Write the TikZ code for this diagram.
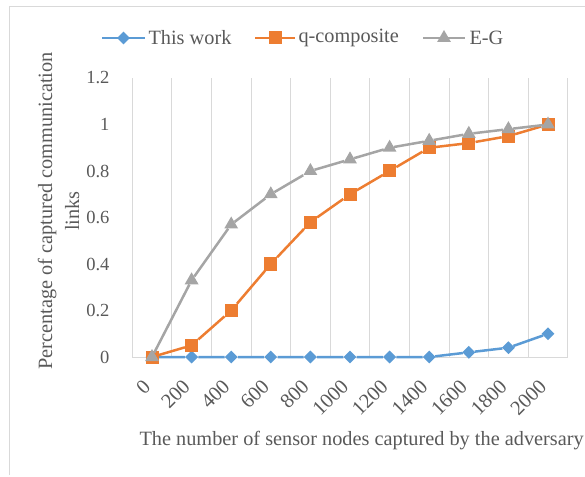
\documentclass[tikz,border=0pt]{standalone}
\usepackage{fontspec}
\setmainfont{Liberation Serif}
\usetikzlibrary{shapes.geometric}

\definecolor{workblue}{HTML}{5B9BD5}
\definecolor{comporange}{HTML}{ED7D31}
\definecolor{eggray}{HTML}{A5A5A5}
\definecolor{gridgray}{HTML}{D9D9D9}
\definecolor{textgray}{HTML}{595959}

\begin{document}
\begin{tikzpicture}[x=39.6pt, y=232.5pt, text=textgray, font=\fontsize{18.5}{20}\selectfont,
    gridline/.style={gridgray, line width=1pt},
    workline/.style={workblue, line width=2.5pt, line join=round},
    compline/.style={comporange, line width=2.5pt, line join=round},
    egline/.style={eggray, line width=2.5pt, line join=round},
    workmark/.style={diamond, fill=workblue, minimum width=13pt, minimum height=13pt, inner sep=0pt},
    compmark/.style={rectangle, fill=comporange, minimum size=13pt, inner sep=0pt},
    egmark/.style={regular polygon, regular polygon sides=3, fill=eggray, minimum size=16pt, inner sep=0pt},
    ylab/.style={anchor=east},
    xlab/.style={anchor=east, rotate=45, inner sep=0pt, font=\fontsize{20.5}{22}\selectfont},
    titletext/.style={font=\fontsize{20.3}{27}\selectfont}]
        \useasboundingbox (-152pt,-119pt) rectangle (433pt,357pt);
        % chart frame
        \draw[gridgray, line width=1pt] (-142pt,-118pt) -- (-142pt,350pt) -- (440pt,350pt);

        % vertical grid and base line
        \draw[gridline] (-0.5,0) -- (-0.5,1.2);
        \draw[gridline] (0.5,0) -- (0.5,1.2);
        \draw[gridline] (1.5,0) -- (1.5,1.2);
        \draw[gridline] (2.5,0) -- (2.5,1.2);
        \draw[gridline] (3.5,0) -- (3.5,1.2);
        \draw[gridline] (4.5,0) -- (4.5,1.2);
        \draw[gridline] (5.5,0) -- (5.5,1.2);
        \draw[gridline] (6.5,0) -- (6.5,1.2);
        \draw[gridline] (7.5,0) -- (7.5,1.2);
        \draw[gridline] (8.5,0) -- (8.5,1.2);
        \draw[gridline] (9.5,0) -- (9.5,1.2);
        \draw[gridline] (10.5,0) -- (10.5,1.2);
        \draw[gridline] (-0.5,0) -- (10.5,0);

        % y labels
        \node[ylab] (y0) at (-39pt,0) {0};
        \node[ylab] (y1) at (-39pt,0.2) {0.2};
        \node[ylab] (y2) at (-39pt,0.4) {0.4};
        \node[ylab] (y3) at (-39pt,0.6) {0.6};
        \node[ylab] (y4) at (-39pt,0.8) {0.8};
        \node[ylab] (y5) at (-39pt,1) {1};
        \node[ylab] (y6) at (-39pt,1.2) {1.2};

        % x labels
        \node[xlab] (x0) at ([xshift=-5pt]0,-26pt) {0};
        \node[xlab] (x1) at ([xshift=-5pt]1,-26pt) {200};
        \node[xlab] (x2) at ([xshift=-5pt]2,-26pt) {400};
        \node[xlab] (x3) at ([xshift=-5pt]3,-26pt) {600};
        \node[xlab] (x4) at ([xshift=-5pt]4,-26pt) {800};
        \node[xlab] (x5) at ([xshift=-5pt]5,-26pt) {1000};
        \node[xlab] (x6) at ([xshift=-5pt]6,-26pt) {1200};
        \node[xlab] (x7) at ([xshift=-5pt]7,-26pt) {1400};
        \node[xlab] (x8) at ([xshift=-5pt]8,-26pt) {1600};
        \node[xlab] (x9) at ([xshift=-5pt]9,-26pt) {1800};
        \node[xlab] (x10) at ([xshift=-5pt]10,-26pt) {2000};

        % axis titles
        \node[titletext, rotate=90, align=center] (ytitle) at (-93.5pt,146pt)
            {Percentage of captured communication\\links};
        \node[titletext, anchor=west] (xtitle) at (-16pt,-84pt)
            {The number of sensor nodes captured by the adversary};

        % This work
        \node[workmark] (t0) at (0,0) {};
        \node[workmark] (t1) at (1,0) {};
        \node[workmark] (t2) at (2,0) {};
        \node[workmark] (t3) at (3,0) {};
        \node[workmark] (t4) at (4,0) {};
        \node[workmark] (t5) at (5,0) {};
        \node[workmark] (t6) at (6,0) {};
        \node[workmark] (t7) at (7,0) {};
        \node[workmark] (t8) at (8,0.02) {};
        \node[workmark] (t9) at (9,0.04) {};
        \node[workmark] (t10) at (10,0.1) {};
        \draw[workline] (t0) -- (t1) -- (t2) -- (t3) -- (t4) -- (t5) -- (t6) -- (t7) -- (t8) -- (t9) -- (t10);

        % q-composite
        \node[compmark] (q0) at (0,0) {};
        \node[compmark] (q1) at (1,0.05) {};
        \node[compmark] (q2) at (2,0.2) {};
        \node[compmark] (q3) at (3,0.4) {};
        \node[compmark] (q4) at (4,0.58) {};
        \node[compmark] (q5) at (5,0.7) {};
        \node[compmark] (q6) at (6,0.8) {};
        \node[compmark] (q7) at (7,0.9) {};
        \node[compmark] (q8) at (8,0.92) {};
        \node[compmark] (q9) at (9,0.95) {};
        \node[compmark] (q10) at (10,1) {};
        \draw[compline] (q0) -- (q1) -- (q2) -- (q3) -- (q4) -- (q5) -- (q6) -- (q7) -- (q8) -- (q9) -- (q10);

        % E-G
        \node[egmark] (e0) at (0,0) {};
        \node[egmark] (e1) at (1,0.33) {};
        \node[egmark] (e2) at (2,0.57) {};
        \node[egmark] (e3) at (3,0.7) {};
        \node[egmark] (e4) at (4,0.8) {};
        \node[egmark] (e5) at (5,0.85) {};
        \node[egmark] (e6) at (6,0.9) {};
        \node[egmark] (e7) at (7,0.93) {};
        \node[egmark] (e8) at (8,0.96) {};
        \node[egmark] (e9) at (9,0.98) {};
        \node[egmark] (e10) at (10,1) {};
        \draw[egline] (e0) -- (e1) -- (e2) -- (e3) -- (e4) -- (e5) -- (e6) -- (e7) -- (e8) -- (e9) -- (e10);

        % legend
        \coordinate (lwa) at (-50pt,319pt);
        \coordinate (lwb) at (-7pt,319pt);
        \draw[workline] (lwa) -- (lwb);
        \node[workmark] (lwm) at (-28.5pt,319pt) {};
        \node[titletext, anchor=west] (lwt) at (-7pt,319pt) {This work};
        \coordinate (lqa) at (103pt,319pt);
        \coordinate (lqb) at (143pt,319pt);
        \draw[compline] (lqa) -- (lqb);
        \node[compmark] (lqm) at (123pt,319pt) {};
        \node[titletext, anchor=west] (lqt) at (143pt,319pt) {q-composite};
        \coordinate (lea) at (271pt,319pt);
        \coordinate (leb) at (313pt,319pt);
        \draw[egline] (lea) -- (leb);
        \node[egmark] (lem) at (292pt,319pt) {};
        \node[titletext, anchor=west] (let) at (314pt,319pt) {E-G};
    \end{tikzpicture}
\end{document}
